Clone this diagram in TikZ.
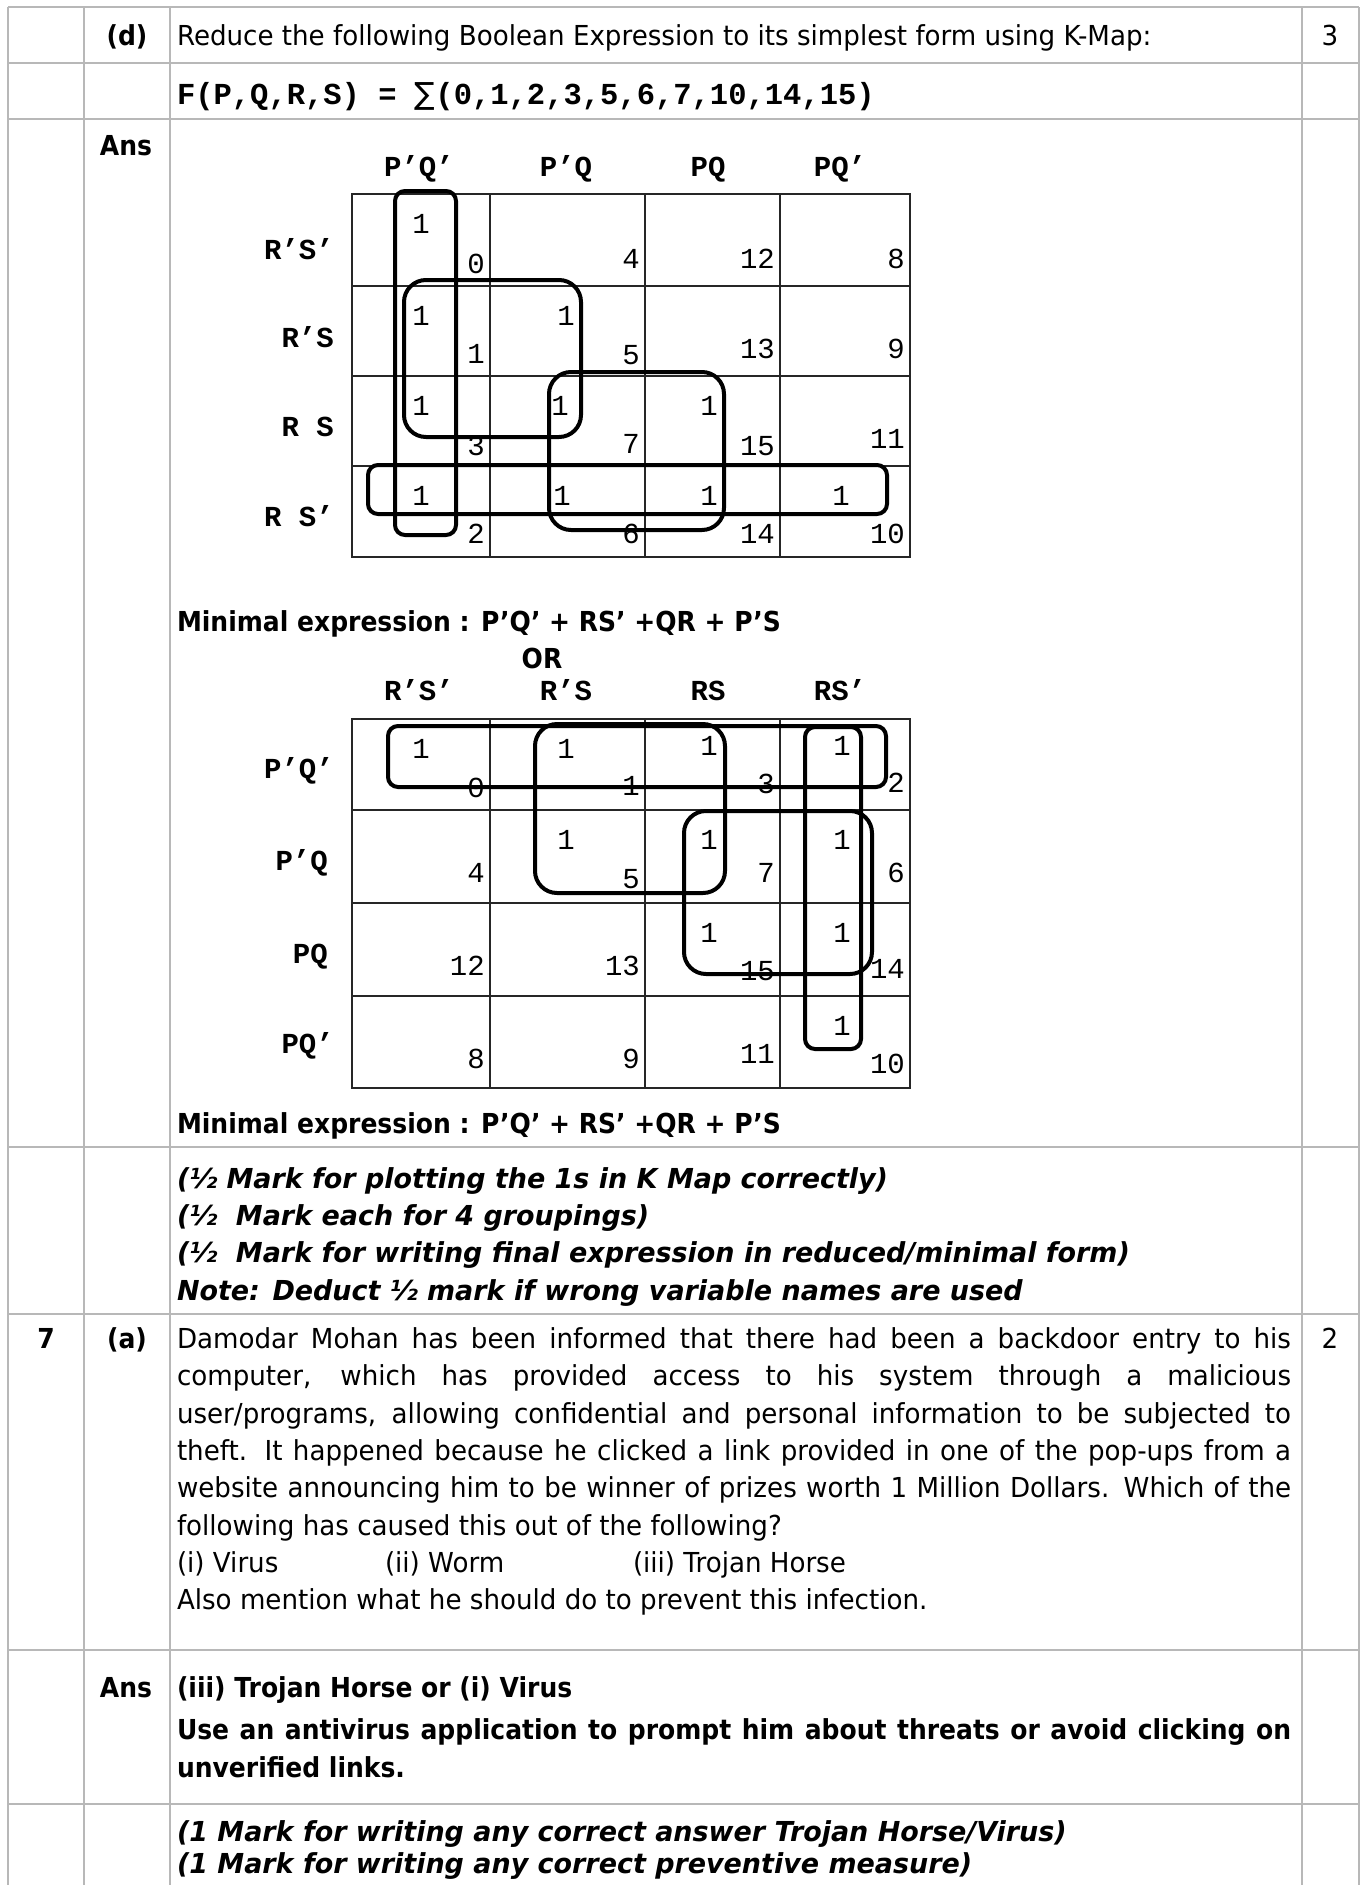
\documentclass[tikz,border=0pt]{standalone}
\usepackage{fontspec}
\setmainfont{DejaVu Sans}[FakeStretch=0.95,
  BoldFeatures={FakeStretch=0.91},
  BoldItalicFeatures={FakeStretch=0.98}]
\newfontfamily\monof{Liberation Mono}
\newfontfamily\symf{DejaVu Sans}
\newcommand\bodysz{\fontsize{27.5}{37}\selectfont}
\newcommand\kmsz{\fontsize{29}{32}\selectfont}
\newcommand\fxsz{\fontsize{30.5}{34}\selectfont}
\begin{document}
\begin{tikzpicture}[x=1pt,y=-1pt,
  tline/.style={draw=black!28, line width=1.6pt},
  kgrid/.style={draw=black!85, line width=1.3pt},
  kloop/.style={draw=black, line width=4pt},
  txt/.style={inner sep=0pt, outer sep=0pt, anchor=base west, font=\bodysz},
  txtc/.style={inner sep=0pt, outer sep=0pt, anchor=base, font=\bodysz},
  khead/.style={inner sep=0pt, anchor=base, font=\monof\bfseries\kmsz},
  krow/.style={inner sep=0pt, anchor=base east, font=\monof\bfseries\kmsz},
  kone/.style={inner sep=0pt, anchor=base, font=\monof\kmsz},
  knum/.style={inner sep=0pt, anchor=base east, font=\monof\kmsz}]
\fill[white] (0,0) rectangle (1364,1885);
\useasboundingbox (0,0) rectangle (1364,1885);
% table rules
\foreach \x in {8,84,170,1302,1359} \draw[tline] (\x,7) -- (\x,1885);
\foreach \y in {7,63,119,1147,1314,1650,1804} \draw[tline] (8,\y) -- (1359,\y);

% row (d)
\node[txtc,font=\bodysz\bfseries] (d) at (127,45) {(d)};
\node[txt] (q) at (177,45) {Reduce the following Boolean Expression to its simplest form using K-Map:};
\node[txtc] (m3) at (1330,45) {3};
\node[txt,font=\monof\bfseries\fxsz] (f) at (177,104) {F(P,Q,R,S) = {\symf\mdseries ∑}(0,1,2,3,5,6,7,10,14,15)};
\node[txtc,font=\bodysz\bfseries] (ans1) at (126,155) {Ans};

% ---------- K-map 1 ----------
\draw[kgrid] (352,194) rectangle (910,557);
\foreach \x in {490,645,780} \draw[kgrid] (\x,194) -- (\x,557);
\foreach \y in {286,376,466} \draw[kgrid] (352,\y) -- (910,\y);
\node[khead] (ah1) at (419,176) {P’Q’};
\node[khead] (ah2) at (566,176) {P’Q};
\node[khead] (ah3) at (708,176) {PQ};
\node[khead] (ah4) at (840,176) {PQ’};
\node[krow] (ar1) at (334,259) {R’S’};
\node[krow] (ar2) at (334,347) {R’S};
\node[krow] (ar3) at (334,436) {R S};
\node[krow] (ar4) at (334,526) {R S’};
\foreach \n/\x/\y in {0/485/273, 4/640/268, 12/775/268, 8/905/268,
  1/485/363, 5/640/364, 13/775/358, 9/905/358,
  3/485/455, 7/640/453, 15/775/455, 11/905/448,
  2/485/543, 6/640/543, 14/775/543, 10/905/543}
  \node[knum] (an\n) at (\x,\y) {\n};
\foreach \c/\x/\y in {a/421/233, b/421/325, c/566/325, d/421/415, e/560/415,
  f/709/415, g/421/505, h/562/505, i/709/505, j/841/505}
  \node[kone] (ao\c) at (\x,\y) {1};
\draw[kloop, rounded corners=10pt] (395,191) rectangle (456,535);
\draw[kloop, rounded corners=22pt] (404,280) rectangle (581,437);
\draw[kloop, rounded corners=22pt] (549,372) rectangle (724,530);
\draw[kloop, rounded corners=10pt] (368,465) rectangle (887,514);

\node[txt,font=\bodysz\bfseries] (min1) at (177,631) {Minimal expression : P’Q’ + RS’ +QR + P’S};
\node[txtc,font=\bodysz\bfseries] (or) at (542,668) {OR};

% ---------- K-map 2 ----------
\draw[kgrid] (352,719) rectangle (910,1088);
\foreach \x in {490,645,780} \draw[kgrid] (\x,719) -- (\x,1088);
\foreach \y in {810,903,996} \draw[kgrid] (352,\y) -- (910,\y);
\node[khead] (bh1) at (419,700) {R’S’};
\node[khead] (bh2) at (566,700) {R’S};
\node[khead] (bh3) at (708,700) {RS};
\node[khead] (bh4) at (840,700) {RS’};
\node[krow] (br1) at (334,778) {P’Q’};
\node[krow] (br2) at (328,870) {P’Q};
\node[krow] (br3) at (328,963) {PQ};
\node[krow] (br4) at (334,1053) {PQ’};
\foreach \n/\x/\y in {0/485/797, 1/640/795, 3/775/793, 2/905/792,
  4/485/882, 5/640/888, 7/775/882, 6/905/882,
  12/485/975, 13/640/975, 15/775/980, 14/905/978,
  8/485/1068, 9/640/1068, 11/775/1063, 10/905/1073}
  \node[knum] (bn\n) at (\x,\y) {\n};
\foreach \c/\x/\y in {a/421/758, b/566/758, c/709/755, d/842/755,
  e/566/849, f/709/849, g/842/849, h/709/942, i/842/942, j/842/1035}
  \node[kone] (bo\c) at (\x,\y) {1};
\draw[kloop, rounded corners=10pt] (388,726) rectangle (886,787);
\draw[kloop, rounded corners=22pt] (535,724) rectangle (725,893);
\draw[kloop, rounded corners=22pt] (684,811) rectangle (872,974);
\draw[kloop, rounded corners=10pt] (805,727) rectangle (861,1049);

\node[txt,font=\bodysz\bfseries] (min2) at (177,1133) {Minimal expression : P’Q’ + RS’ +QR + P’S};

% notes
\node[txt,font=\bodysz\bfseries\itshape] (n1) at (177,1188) {(½ Mark for plotting the 1s in K Map correctly)};
\node[txt,font=\bodysz\bfseries\itshape] (n2) at (177,1225) {(½\ \ Mark each for 4 groupings)};
\node[txt,font=\bodysz\bfseries\itshape] (n3) at (177,1262) {(½\ \ Mark for writing final expression in reduced/minimal form)};
\node[txt,font=\bodysz\bfseries\itshape] (n4) at (177,1300) {Note: Deduct ½ mark if wrong variable names are used};

% question 7 (a)
\node[txtc,font=\bodysz\bfseries] (seven) at (46,1348) {7};
\node[txtc,font=\bodysz\bfseries] (qa) at (127,1348) {(a)};
\node[txtc] (m2) at (1330,1348) {2};
\node[txt] (l1) at (177,1348) {\makebox[1114pt][s]{Damodar Mohan has been informed that there had been a backdoor entry to his}};
\node[txt] (l2) at (177,1385) {\makebox[1114pt][s]{computer, which has provided access to his system through a malicious}};
\node[txt] (l3) at (177,1423) {\makebox[1114pt][s]{user/programs, allowing confidential and personal information to be subjected to}};
\node[txt] (l4) at (177,1460) {\makebox[1114pt][s]{theft. It happened because he clicked a link provided in one of the pop-ups from a}};
\node[txt] (l5) at (177,1497) {\makebox[1114pt][s]{website announcing him to be winner of prizes worth 1 Million Dollars. Which of the}};
\node[txt] (l6) at (177,1535) {following has caused this out of the following?};
\node[txt] (o1) at (177,1572) {(i) Virus};
\node[txt] (o2) at (385,1572) {(ii) Worm};
\node[txt] (o3) at (633,1572) {(iii) Trojan Horse};
\node[txt] (l8) at (177,1609) {Also mention what he should do to prevent this infection.};

% answer
\node[txtc,font=\bodysz\bfseries] (ans2) at (126,1697) {Ans};
\node[txt,font=\bodysz\bfseries] (a1) at (177,1697) {(iii) Trojan Horse or (i) Virus};
\node[txt,font=\bodysz\bfseries] (a2) at (177,1739) {\makebox[1114pt][s]{Use an antivirus application to prompt him about threats or avoid clicking on}};
\node[txt,font=\bodysz\bfseries] (a3) at (177,1777) {unverified links.};
\node[txt,font=\bodysz\bfseries\itshape] (n5) at (177,1841) {(1 Mark for writing any correct answer Trojan Horse/Virus)};
\node[txt,font=\bodysz\bfseries\itshape] (n6) at (177,1873) {(1 Mark for writing any correct preventive measure)};
\end{tikzpicture}
\end{document}
